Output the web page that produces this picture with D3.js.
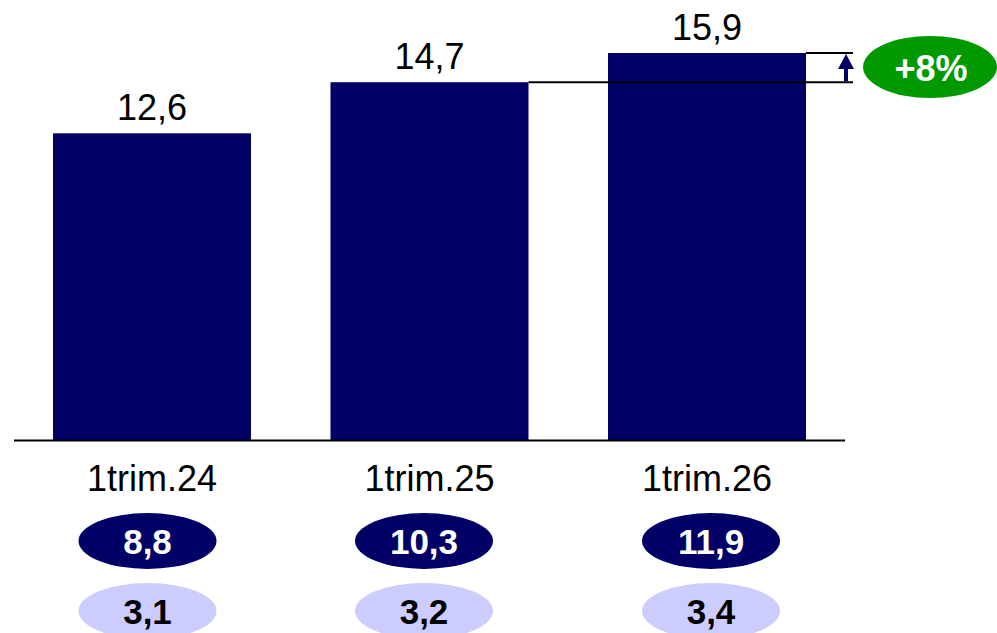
<!DOCTYPE html>
<html><head><meta charset="utf-8">
<script src="https://cdn.jsdelivr.net/npm/d3@7"></script>
<style>body{margin:0;background:#fff}svg{display:block}</style>
</head><body>
<svg id="chart" width="997" height="633"></svg>
<script>
const categories = ["1trim.24", "1trim.25", "1trim.26"];
const totals = [12.6, 14.7, 15.9];
const darkValues = [8.8, 10.3, 11.9];
const lightValues = [3.1, 3.2, 3.4];
const growthLabel = "+8%";

const fmt = v => String(v.toFixed(1)).replace(".", ",");
const svg = d3.select("#chart");
const FONT = "'Liberation Sans', Arial, sans-serif";

const x = d3.scaleBand().domain(categories).range([53, 806]).paddingInner(0.2865).paddingOuter(0);
const y = d3.scaleLinear().domain([0, 15.9]).range([440, 53]);

// bars
svg.selectAll("rect.bar").data(totals).join("rect")
  .attr("class", "bar")
  .attr("x", (d, i) => x(categories[i]))
  .attr("y", d => y(d))
  .attr("width", x.bandwidth())
  .attr("height", d => y(0) - y(d))
  .attr("fill", "#000066");

// baseline
svg.append("line").attr("x1", 14).attr("x2", 845).attr("y1", y(0) + 0.5).attr("y2", y(0) + 0.5)
  .attr("stroke", "#000").attr("stroke-width", 2);

// value labels
svg.selectAll("text.val").data(totals).join("text")
  .attr("class", "val")
  .attr("x", (d, i) => x(categories[i]) + x.bandwidth() / 2)
  .attr("y", d => y(d) - 13)
  .attr("text-anchor", "middle")
  .attr("font-family", FONT).attr("font-size", 36).attr("fill", "#000")
  .text(d => fmt(d));

// category labels
svg.selectAll("text.cat").data(categories).join("text")
  .attr("class", "cat")
  .attr("x", d => x(d) + x.bandwidth() / 2)
  .attr("y", 491)
  .attr("text-anchor", "middle")
  .attr("font-family", FONT).attr("font-size", 36).attr("fill", "#000")
  .text(d => d);

// comparison lines
const xr2 = x(categories[1]) + x.bandwidth();
const xr3 = x(categories[2]) + x.bandwidth();
const lineEnd = 853;
svg.append("line").attr("x1", xr2).attr("x2", lineEnd).attr("y1", y(totals[1])).attr("y2", y(totals[1]))
  .attr("stroke", "#000").attr("stroke-width", 2);
svg.append("line").attr("x1", xr3).attr("x2", lineEnd).attr("y1", y(totals[2])).attr("y2", y(totals[2]))
  .attr("stroke", "#000").attr("stroke-width", 2);

// arrow
const ax = 846;
const yTop = y(totals[2]) + 1, yBot = y(totals[1]) - 1;
svg.append("line").attr("x1", ax).attr("x2", ax).attr("y1", yTop + 12).attr("y2", yBot)
  .attr("stroke", "#000066").attr("stroke-width", 4);
svg.append("path")
  .attr("d", `M${ax},${yTop} L${ax - 8},${yTop + 15} L${ax + 8},${yTop + 15} Z`)
  .attr("fill", "#000066");

// growth bubble
svg.append("ellipse").attr("cx", 930).attr("cy", 67).attr("rx", 67).attr("ry", 31).attr("fill", "#009900");
svg.append("text").attr("x", 931).attr("y", 81).attr("text-anchor", "middle")
  .attr("font-family", FONT).attr("font-size", 36).attr("font-weight", "bold").attr("fill", "#fff")
  .text(growthLabel);

// dark ellipses
const ellOff = [-4.5, -5.5, 4];
const darkG = svg.selectAll("g.dark").data(darkValues).join("g").attr("class", "dark")
  .attr("transform", (d, i) => `translate(${x(categories[i]) + x.bandwidth() / 2 + ellOff[i]},541)`);
darkG.append("ellipse").attr("rx", 69).attr("ry", 28).attr("fill", "#000066");
darkG.append("text").attr("y", 13).attr("text-anchor", "middle")
  .attr("font-family", FONT).attr("font-size", 35).attr("font-weight", "bold").attr("fill", "#fff")
  .text(d => fmt(d));

// light ellipses
const lightG = svg.selectAll("g.light").data(lightValues).join("g").attr("class", "light")
  .attr("transform", (d, i) => `translate(${x(categories[i]) + x.bandwidth() / 2 + ellOff[i]},611)`);
lightG.append("ellipse").attr("rx", 69).attr("ry", 28).attr("fill", "#ccccff");
lightG.append("text").attr("y", 13).attr("text-anchor", "middle")
  .attr("font-family", FONT).attr("font-size", 35).attr("font-weight", "bold").attr("fill", "#000")
  .text(d => fmt(d));
</script>
</body></html>
